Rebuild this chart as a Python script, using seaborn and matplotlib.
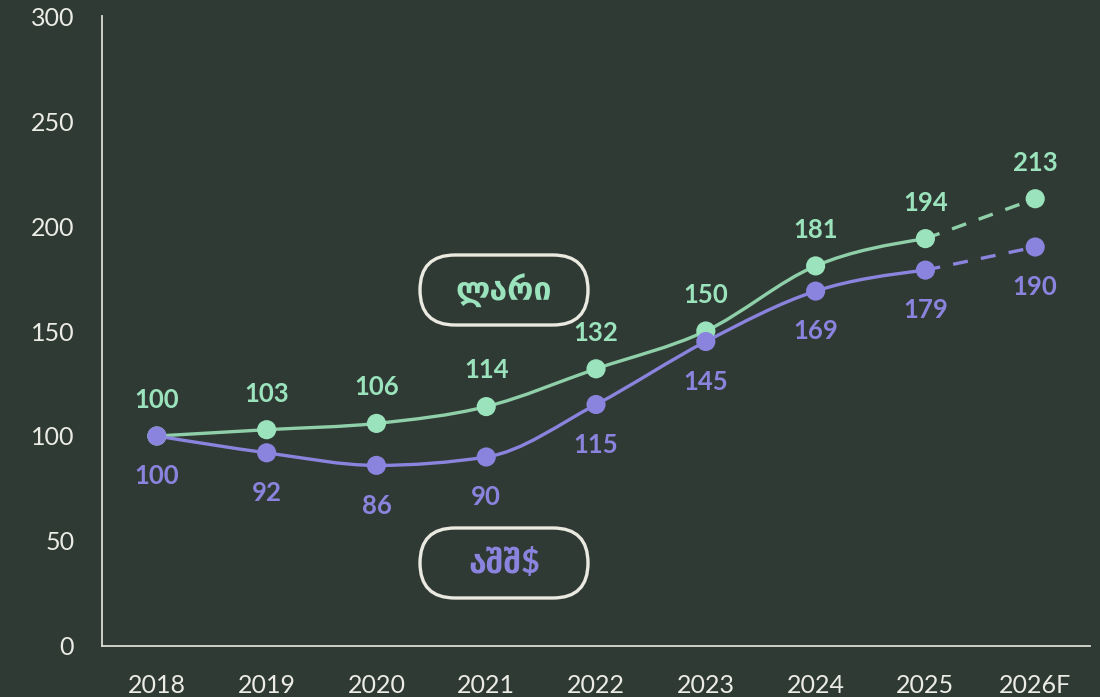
import numpy as np
import pandas as pd
import matplotlib
matplotlib.use("Agg")
import matplotlib.pyplot as plt
import seaborn as sns
from matplotlib.path import Path
from matplotlib.patches import PathPatch, FancyBboxPatch

# data
years = ["2018", "2019", "2020", "2021", "2022", "2023", "2024", "2025", "2026F"]
gel = [100, 103, 106, 114, 132, 150, 181, 194, 213]
usd = [100, 92, 86, 90, 115, 145, 169, 179, 190]
series_names = ["ლარი", "აშშ$"]
y_ticks = [0, 50, 100, 150, 200, 250, 300]

bg = "#303a34"
green = "#8fd0aa"
green_pt = "#9be3bd"
purple = "#8b84de"
axis_col = "#dcdcd3"
tick_col = "#ecece6"

sns.set_theme(style="white")
plt.rcParams["font.family"] = ["Lato", "DejaVu Sans"]

fig = plt.figure(figsize=(11, 6.97), dpi=100, facecolor=bg)
ax = fig.add_axes([0.0927, 0.0732, 0.8983, 0.9038])
ax.set_facecolor(bg)

x = np.arange(len(years))
df = pd.DataFrame({"x": np.concatenate([x, x]),
                   "value": gel + usd,
                   "series": [series_names[0]] * len(x) + [series_names[1]] * len(x)})


def monotone_path(xs, ys):
    # d3 curveMonotoneX style bezier path through the points
    xs = np.asarray(xs, float)
    ys = np.asarray(ys, float)
    n = len(xs)
    h = np.diff(xs)
    s = np.diff(ys) / h
    t = np.zeros(n)
    for i in range(1, n - 1):
        p = (s[i - 1] * h[i] + s[i] * h[i - 1]) / (h[i - 1] + h[i])
        t[i] = (np.sign(s[i - 1]) + np.sign(s[i])) * min(abs(s[i - 1]), abs(s[i]), 0.5 * abs(p))
    t[0] = (3 * s[0] - t[1]) / 2
    t[-1] = (3 * s[-1] - t[-2]) / 2
    verts = [(xs[0], ys[0])]
    codes = [Path.MOVETO]
    for i in range(n - 1):
        dx = h[i] / 3
        verts += [(xs[i] + dx, ys[i] + t[i] * dx),
                  (xs[i + 1] - dx, ys[i + 1] - t[i + 1] * dx),
                  (xs[i + 1], ys[i + 1])]
        codes += [Path.CURVE4] * 3
    return Path(verts, codes)


for vals, col, ptc in [(gel, green, green_pt), (usd, purple, purple)]:
    ax.add_patch(PathPatch(monotone_path(x[:8], vals[:8]), fill=False,
                           edgecolor=col, lw=2.4, capstyle="round", zorder=2))
    sns.lineplot(x=x[7:], y=vals[7:], ax=ax, color=col, lw=2.4,
                 dashes=False, linestyle=(0, (4.5, 4)), zorder=2)

sns.scatterplot(data=df, x="x", y="value", hue="series",
                palette=[green_pt, purple], s=190, edgecolor="none",
                legend=False, ax=ax, zorder=3)

# value labels
for i, v in enumerate(gel):
    ax.annotate(str(v), (x[i], v), xytext=(0, 26), textcoords="offset points",
                ha="center", va="center", fontsize=18.5, fontweight="bold", color=green_pt)
for i, v in enumerate(usd):
    ax.annotate(str(v), (x[i], v), xytext=(0, -29), textcoords="offset points",
                ha="center", va="center", fontsize=18.5, fontweight="bold", color=purple)

# pill labels (positioned in figure inches)
for (y0, name, col) in [(3.72, series_names[0], green_pt), (0.99, series_names[1], purple)]:
    pill = FancyBboxPatch((4.20, y0), 1.68, 0.70,
                          boxstyle="round,pad=0,rounding_size=0.35",
                          transform=fig.dpi_scale_trans, facecolor="none",
                          edgecolor="#ebeae1", lw=2.4, zorder=4)
    fig.patches.append(pill)
    fig.text(5.04 / 11, (y0 + 0.35) / 6.97, name, ha="center", va="center",
             fontsize=23, fontweight="bold", color=col,
             family=["Lato", "DejaVu Sans"])

ax.set_xlim(-0.5, 8.5)
ax.set_ylim(0, 300)
ax.set_xticks(x)
ax.set_xticklabels(years)
ax.set_yticks(y_ticks)
ax.set_xlabel("")
ax.set_ylabel("")
ax.tick_params(axis="both", length=0, labelsize=18, labelcolor=tick_col)
ax.tick_params(axis="x", pad=20)
ax.tick_params(axis="y", pad=20)
for lbl in ax.get_xticklabels() + ax.get_yticklabels():
    lbl.set_fontweight("normal")

sns.despine(ax=ax)
for side in ["left", "bottom"]:
    ax.spines[side].set_color(axis_col)
    ax.spines[side].set_linewidth(1.3)
ax.grid(False)

fig.savefig("out.png", dpi=100, facecolor=bg)
